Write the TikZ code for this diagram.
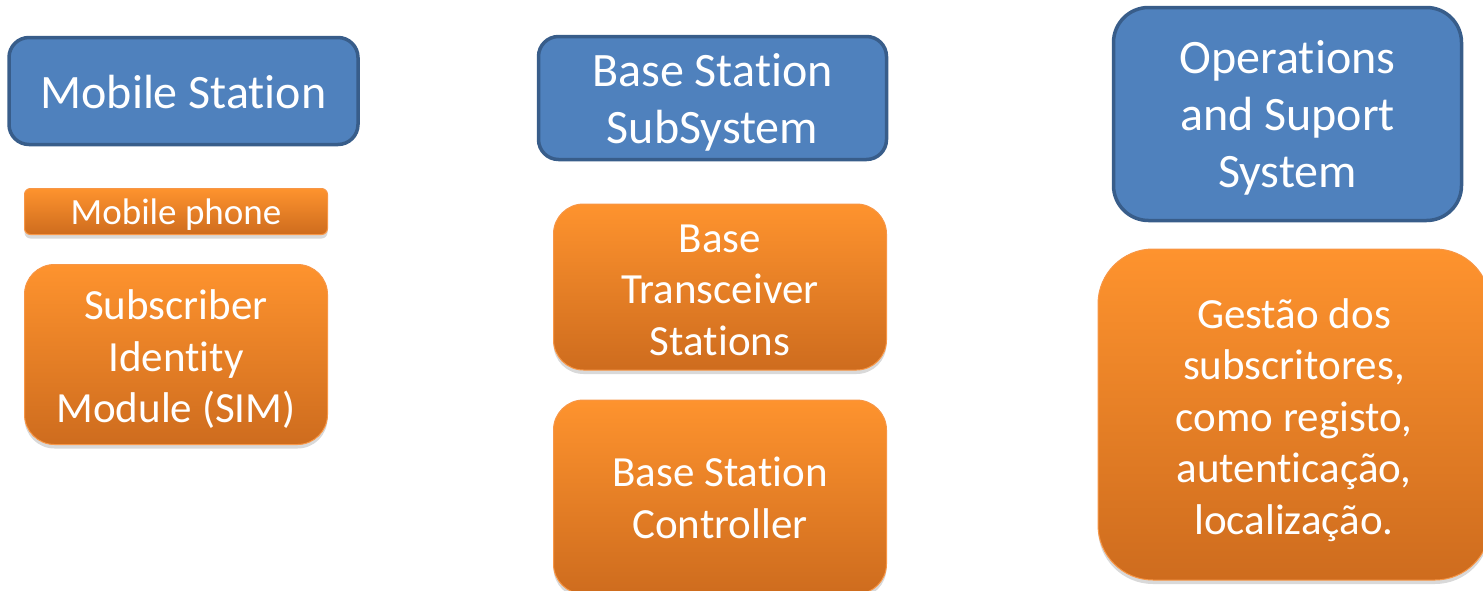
\documentclass[tikz,border=0pt]{standalone}
\usepackage{fontspec}
\setmainfont[Ligatures=NoCommon]{Carlito}
\usetikzlibrary{shadows}
\definecolor{bluefill}{RGB}{79,129,189}
\definecolor{blueline}{RGB}{56,93,138}
\definecolor{orangetop}{RGB}{254,147,46}
\definecolor{orangebot}{RGB}{206,108,30}
\definecolor{orangeline}{RGB}{247,150,70}
\tikzset{
  bluebox/.style={draw=blueline, line width=3.5pt, fill=bluefill, inner sep=0pt},
  bluetext/.style={text=white, align=center, inner sep=0pt, font=\fontsize{48}{57}\selectfont},
  orangebox/.style={draw=orangeline, line width=1pt, top color=orangetop, bottom color=orangebot,
    inner sep=0pt, drop shadow={opacity=0.3, shadow xshift=0pt, shadow yshift=-4pt}},
  orangetext/.style={text=white, align=center, inner sep=0pt, font=\fontsize{43}{51.5}\selectfont},
}
\begin{document}
\begin{tikzpicture}[x=1pt,y=-1pt]
\useasboundingbox (0,0) rectangle (1483,590);
% blue headers
\node[bluebox, minimum width=349pt, minimum height=107pt, rounded corners=20pt] (ms) at (183.5,91) {};
\node[bluetext] (mst) at ([yshift=-1pt]ms.center) {Mobile Station};
\node[bluebox, minimum width=348pt, minimum height=123pt, rounded corners=20pt] (bss) at (712.5,98) {};
\node[bluetext] (bsst) at ([yshift=-4.5pt]bss.center) {Base Station\\SubSystem};
\node[bluebox, minimum width=348pt, minimum height=213pt, rounded corners=35pt] (oss) at (1287.5,114) {};
\node[bluetext] (osst) at ([yshift=-3.5pt]oss.center) {Operations\\and Suport\\System};
% orange items
\node[orangebox, minimum width=303pt, minimum height=46pt, rounded corners=6pt] (phone) at (176,211.5) {};
\node[orangetext, font=\fontsize{37}{44}\selectfont] (phonet) at ([yshift=-3pt]phone.center) {Mobile phone};
\node[orangebox, minimum width=303pt, minimum height=180pt, rounded corners=30pt] (sim) at (176,354.5) {};
\node[orangetext] (simt) at ([yshift=-5pt]sim.center) {Subscriber\\Identity\\Module (SIM)};
\node[orangebox, minimum width=333pt, minimum height=166pt, rounded corners=30pt] (bts) at (720,287) {};
\node[orangetext] (btst) at ([yshift=-3pt]bts.center) {Base\\Transceiver\\Stations};
\node[orangebox, minimum width=333pt, minimum height=194pt, rounded corners=30pt] (bsc) at (720,497) {};
\node[orangetext] (bsct) at ([yshift=-1pt]bsc.center) {Base Station\\Controller};
\node[orangebox, minimum width=392pt, minimum height=331pt, rounded corners=55pt] (gest) at (1294,414.5) {};
\node[orangetext] (gestt) at ([yshift=-5.5pt]gest.center) {Gestão dos\\subscritores,\\como registo,\\autenticação,\\localização.};
\end{tikzpicture}
\end{document}
